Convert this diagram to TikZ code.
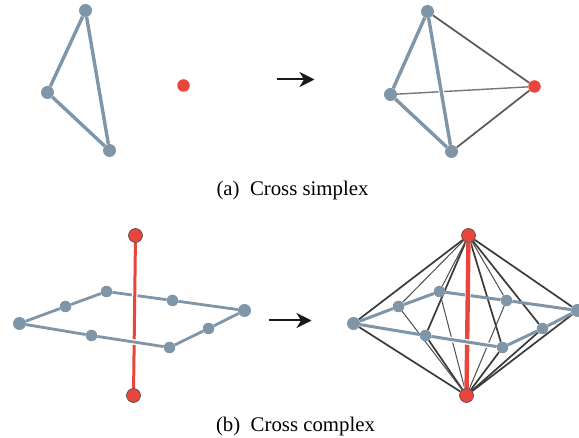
\documentclass[tikz,border=0pt]{standalone}
\usepackage{fontspec}
\setmainfont{Liberation Serif}
\usetikzlibrary{arrows.meta,backgrounds}
\definecolor{slate}{HTML}{7F95A8}
\definecolor{tomato}{HTML}{E8453C}
\definecolor{ink}{HTML}{3A3A3A}
\tikzset{
  bdot/.style={circle, fill=slate, inner sep=0pt, minimum size=13pt},
  bsmall/.style={circle, fill=slate, inner sep=0pt, minimum size=11.5pt},
  rdot/.style={circle, fill=tomato, inner sep=0pt, minimum size=12.5pt},
  rbig/.style={circle, fill=tomato, draw=ink, line width=.5pt, inner sep=0pt, minimum size=14pt},
  bedge/.style={slate, line width=2.8pt},
  bwide/.style={slate, line width=3.4pt},
  bmid/.style={slate, line width=3pt},
  halo/.style={white, line width=5.5pt},
  redge/.style={tomato, line width=3pt},
  kthick/.style={ink, line width=1.7pt},
  kthin/.style={ink!90, line width=1pt},
  arr/.style={-{Stealth[length=15pt, width=15pt, inset=4.5pt]}, black!90, line width=2pt},
  caption/.style={anchor=base, font=\fontsize{20.8}{24}\selectfont}
}
\begin{document}
\begin{tikzpicture}[x=1pt, y=-1pt]
  \useasboundingbox (-.5,-.5) rectangle (578.5,437.5);

  \node[bdot] (a1) at (85,10) {};
  \node[bdot] (a2) at (47,92) {};
  \node[bdot] (a3) at (109,150) {};
  \node[rdot] (a4) at (183,85) {};
  \node[bdot] (b1) at (427,11) {};
  \node[bdot] (b2) at (390,94) {};
  \node[bdot] (b3) at (451,151) {};
  \node[rdot] (b4) at (534,86) {};
  \coordinate (ar1) at (276,79);
  \coordinate (ar2) at (314,79);
  \coordinate (ar3) at (268,320);
  \coordinate (ar4) at (311,320);

  \node[bdot] (c1) at (19,323) {};
  \node[bsmall] (c2) at (65,306) {};
  \node[bsmall] (c3) at (106,291) {};
  \node[bsmall] (c4) at (172,300) {};
  \node[bdot] (c5) at (244,310) {};
  \node[bsmall] (c6) at (208,328) {};
  \node[bsmall] (c7) at (169,347) {};
  \node[bsmall] (c8) at (91,335) {};
  \node[rbig] (ct) at (135,235) {};
  \node[rbig] (cb) at (133,395) {};

  \node[bdot] (d1) at (353,323) {};
  \node[bsmall] (d2) at (398,306) {};
  \node[bsmall] (d3) at (439,291) {};
  \node[bsmall] (d4) at (506,300) {};
  \node[bdot] (d5) at (577,310) {};
  \node[bsmall] (d6) at (542,328) {};
  \node[bsmall] (d7) at (502,347) {};
  \node[bsmall] (d8) at (425,335) {};
  \node[rbig] (dt) at (468,235) {};
  \node[rbig] (db) at (466,395) {};

  \begin{scope}[on background layer]
    \draw[bwide] (a1) -- (a2);
    \draw[bwide] (a2) -- (a3);
    \draw[bwide] (a3) -- (a1);

    \draw[kthick, ink!85] (b1) -- (b4);
    \draw[kthick, ink!85] (b3) -- (b4);
    \draw[ink!70, line width=1.4pt] (b2) -- (b4);
    \draw[halo] (b1) -- (b3);
    \draw[bwide] (b1) -- (b3);
    \draw[bwide] (b1) -- (b2);
    \draw[bwide] (b2) -- (b3);

    \draw[bedge] (c1) -- (c2);
    \draw[bedge] (c2) -- (c3);
    \draw[bedge] (c3) -- (c4);
    \draw[bedge] (c4) -- (c5);
    \draw[bedge] (c5) -- (c6);
    \draw[bedge] (c6) -- (c7);
    \draw[bedge] (c8) -- (c1);
    \draw[halo] (ct) -- (cb);
    \draw[redge] (ct) -- (cb);
    \draw[halo] (c7) -- (c8);
    \draw[bedge] (c7) -- (c8);

    \foreach \i in {1,5,6,7,8} {
      \draw[kthick] (dt) -- (d\i);
      \draw[kthick] (db) -- (d\i);
    }
    \foreach \i in {2,3,4} {
      \draw[kthin] (dt) -- (d\i);
      \draw[kthin] (db) -- (d\i);
    }
    \draw[bmid] (d1) -- (d2);
    \draw[bmid] (d2) -- (d3);
    \draw[bmid] (d3) -- (d4);
    \draw[bmid] (d4) -- (d5);
    \draw[bmid] (d5) -- (d6);
    \draw[bmid] (d6) -- (d7);
    \draw[bmid] (d8) -- (d1);
    \draw[halo] (dt) -- (db);
    \draw[redge, line width=4.4pt] (dt) -- (db);
    \draw[halo] (d7) -- (d8);
    \draw[bmid] (d7) -- (d8);
  \end{scope}

  \draw[arr] (ar1) -- (ar2);
  \draw[arr] (ar3) -- (ar4);

  \node[caption] (cap1) at (292,195) {(a)\hspace{.5em}Cross simplex};
  \node[caption] (cap2) at (295,431) {(b)\hspace{.5em}Cross complex};
\end{tikzpicture}
\end{document}
